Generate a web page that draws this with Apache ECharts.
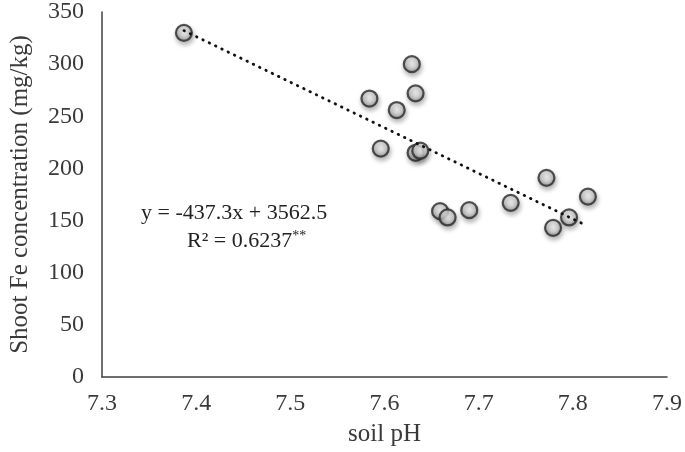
<!DOCTYPE html>
<html>
<head>
    <meta charset="utf-8">
    <title>soil pH vs shoot Fe</title>
    <script src="https://cdn.jsdelivr.net/npm/echarts@6/dist/echarts.min.js"></script>
    <style>
        html, body { margin: 0; padding: 0; background: #fff; }
        #chart { width: 685px; height: 452px; }
    </style>
</head>
<body>
<div id="chart"></div>
<script>
    // soil pH of each sample
    var soilPH = [7.387, 7.584, 7.629, 7.613, 7.633, 7.596, 7.633, 7.638, 7.659, 7.667, 7.690, 7.734, 7.772, 7.779, 7.796, 7.816];
    // shoot Fe concentration (mg/kg)
    var shootFe = [330, 267, 300, 256, 272, 219, 215, 217, 159, 153, 160, 167, 191, 143, 153, 173];
    // linear fit y = slope * x + intercept
    var slope = -437.3;
    var intercept = 3562.5;
    var fitRange = [7.387, 7.812];

    var points = [];
    for (var i = 0; i < soilPH.length; i++) {
        points.push([soilPH[i], shootFe[i]]);
    }
    var fitLine = [
        [fitRange[0], slope * fitRange[0] + intercept],
        [fitRange[1], slope * fitRange[1] + intercept]
    ];

    var font = '"Liberation Serif", "Times New Roman", serif';
    var myChart = echarts.init(document.getElementById('chart'));
    var option = {
        animation: false,
        grid: { left: 97, right: 16, top: 12, bottom: 74 },
        xAxis: {
            type: 'value',
            min: 7.3, max: 7.9, interval: 0.1,
            name: 'soil pH',
            nameLocation: 'middle',
            nameGap: 45,
            nameTextStyle: { fontFamily: font, fontSize: 25, color: '#3a3a3a' },
            axisLine: { lineStyle: { color: '#404040', width: 1.5 } },
            axisTick: { show: false },
            splitLine: { show: false },
            axisLabel: {
                fontFamily: font, fontSize: 24, color: '#3a3a3a', margin: 15,
                formatter: function (v) { return v.toFixed(1); }
            }
        },
        yAxis: {
            type: 'value',
            min: 0, max: 350, interval: 50,
            name: 'Shoot Fe concentration (mg/kg)',
            nameLocation: 'middle',
            nameGap: 69,
            nameTextStyle: { fontFamily: font, fontSize: 25, color: '#3a3a3a' },
            axisLine: { show: true, lineStyle: { color: '#404040', width: 1.5 } },
            axisTick: { show: false },
            splitLine: { show: false },
            axisLabel: { fontFamily: font, fontSize: 24, color: '#3a3a3a', margin: 18 }
        },
        series: [
            {
                type: 'line',
                data: fitLine,
                symbol: 'none',
                lineStyle: { color: '#111', width: 2.8, type: [0.5, 6.5], cap: 'round' },
                z: 3
            },
            {
                type: 'scatter',
                data: points,
                symbol: 'circle',
                symbolSize: 16,
                itemStyle: {
                    color: new echarts.graphic.RadialGradient(0.5, 0.4, 0.6, [
                        { offset: 0, color: '#ffffff' },
                        { offset: 0.45, color: '#dadada' },
                        { offset: 1, color: '#8a8a8a' }
                    ]),
                    borderColor: '#2b2b2b',
                    borderWidth: 2.2,
                    shadowBlur: 5,
                    shadowColor: 'rgba(0,0,0,0.35)',
                    shadowOffsetX: 1,
                    shadowOffsetY: 3
                },
                z: 2
            }
        ],
        graphic: [
            {
                type: 'text',
                left: 141, top: 202,
                style: {
                    text: 'y = -437.3x + 3562.5',
                    font: '22px ' + font,
                    fill: '#222'
                }
            },
            {
                type: 'text',
                left: 187, top: 229,
                style: {
                    text: '{a|R² = 0.6237}{b|**}',
                    rich: {
                        a: { fontFamily: font, fontSize: 22, fill: '#222' },
                        b: { fontFamily: font, fontSize: 14, fill: '#222', verticalAlign: 'top', padding: [0, 0, 11, 0] }
                    }
                }
            }
        ]
    };
    myChart.setOption(option);
</script>
</body>
</html>
